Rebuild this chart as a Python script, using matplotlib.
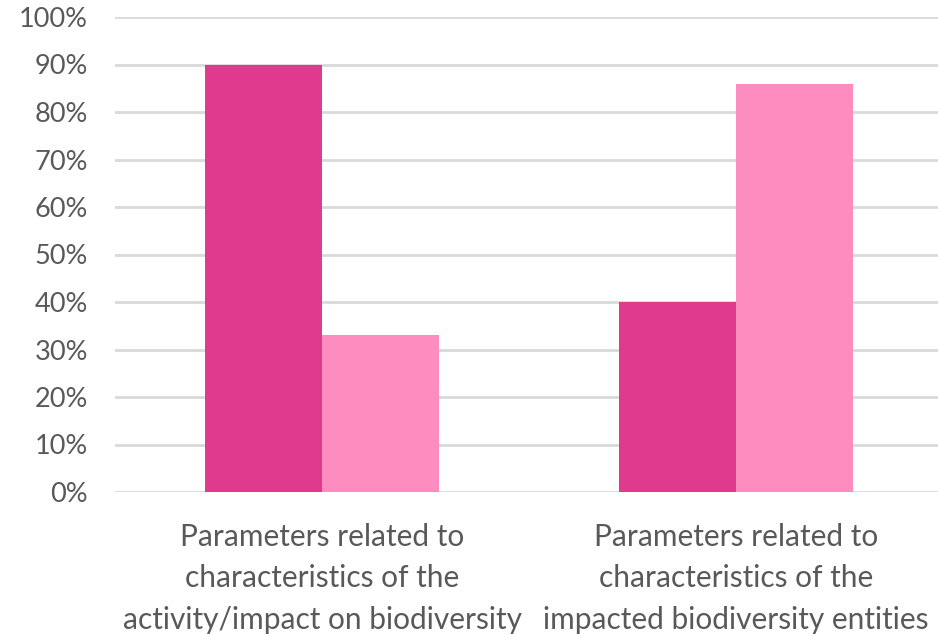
import matplotlib
matplotlib.use("Agg")
import matplotlib.pyplot as plt
import numpy as np

categories = [
    "Parameters related to\ncharacteristics of the\nactivity/impact on biodiversity",
    "Parameters related to\ncharacteristics of the\nimpacted biodiversity entities",
]
series_a = [90, 40]
series_b = [33, 86]
y_ticks = list(range(0, 101, 10))
y_tick_labels = [f"{v}%" for v in y_ticks]

color_a = "#E03A8F"
color_b = "#FD8DBE"
text_color = "#595959"
grid_color = "#D9D9D9"

plt.rcParams["font.family"] = ["Lato", "DejaVu Sans"]

fig = plt.figure(figsize=(9.38, 6.34), dpi=100)
ax = fig.add_axes([115 / 938, 1 - 492 / 634, 828 / 938, (492 - 17) / 634])

x = np.arange(len(categories))
width = 0.283
ax.bar(x - width / 2, series_a, width, color=color_a, zorder=3)
ax.bar(x + width / 2, series_b, width, color=color_b, zorder=3)

ax.set_xlim(-0.5, 1.5)
ax.set_ylim(0, 100)
ax.set_yticks(y_ticks)
ax.set_yticklabels(y_tick_labels)
ax.set_xticks(x)
ax.set_xticklabels(categories, linespacing=1.6)

ax.yaxis.grid(True, color=grid_color, linewidth=2, zorder=0)
ax.set_axisbelow(True)
for s in ax.spines.values():
    s.set_visible(False)

ax.tick_params(axis="y", length=0, pad=19.5, labelsize=19.5, labelcolor=text_color)
ax.tick_params(axis="x", length=0, pad=22, labelsize=21.5, labelcolor=text_color)

fig.savefig("out.png", dpi=100, facecolor="white")
